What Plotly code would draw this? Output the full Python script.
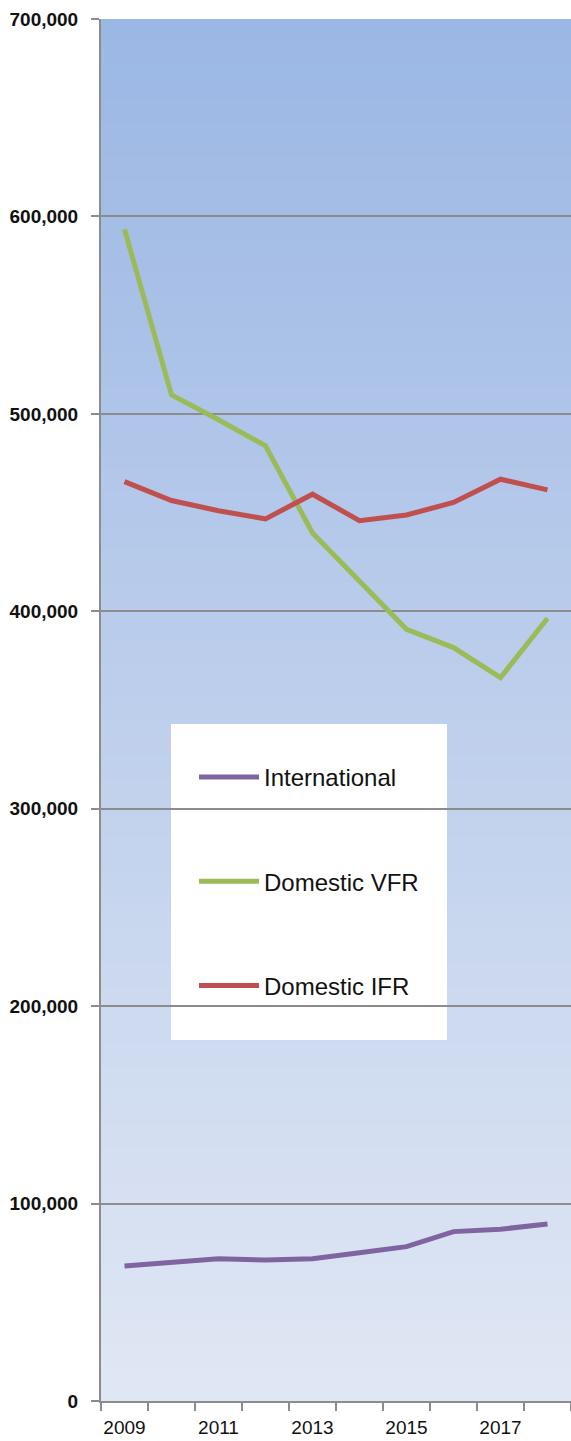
import plotly.graph_objects as go

years = [2009, 2010, 2011, 2012, 2013, 2014, 2015, 2016, 2017, 2018]
international = [68400, 70000, 72000, 71400, 72100, 75100, 78200, 85800, 87000, 89700]
domestic_vfr = [593500, 509600, 497000, 483800, 439700, 415500, 390900, 381600, 366400, 396500]
domestic_ifr = [465700, 456100, 450900, 446800, 459300, 445900, 448800, 455100, 466900, 461500]

series_names = ["International", "Domestic VFR", "Domestic IFR"]
series_colors = ["#8064A2", "#9BBB59", "#C0504D"]
x_label_years = [2009, 2011, 2013, 2015, 2017]

W, H = 571, 1441
ML, MR, MT, MB = 101, 0, 19, 40
PW, PH = W - ML - MR, H - MT - MB

fig = go.Figure()
for i, (name, vals) in enumerate(zip(series_names, [international, domestic_vfr, domestic_ifr])):
    fig.add_trace(go.Scatter(
        x=years, y=vals, name=name, mode="lines",
        line=dict(color=series_colors[i], width=5),
        legendgroup=name,
    ))

# vertical gradient background
top_rgb = (155, 183, 228)
bot_rgb = (224, 231, 244)
shapes = []
N = 120
for k in range(N):
    t = k / (N - 1)
    r = round(top_rgb[0] + (bot_rgb[0] - top_rgb[0]) * t)
    g = round(top_rgb[1] + (bot_rgb[1] - top_rgb[1]) * t)
    b = round(top_rgb[2] + (bot_rgb[2] - top_rgb[2]) * t)
    y1 = 1 - k / N
    y0 = 1 - (k + 1) / N - 0.001
    shapes.append(dict(type="rect", xref="paper", yref="paper", x0=0, x1=1,
                       y0=max(y0, 0), y1=y1, fillcolor=f"rgb({r},{g},{b})",
                       line=dict(width=0), layer="below"))

def px_x(px):
    return (px - ML) / PW

def px_y(py):
    return (H - MB - py) / PH

# white legend box
shapes.append(dict(type="rect", xref="paper", yref="paper",
                   x0=px_x(171), x1=px_x(447), y0=px_y(1040), y1=px_y(724),
                   fillcolor="white", line=dict(width=0), layer="between"))

fig.update_layout(
    width=W, height=H,
    margin=dict(l=ML, r=MR, t=MT, b=MB, pad=0),
    paper_bgcolor="white",
    plot_bgcolor="rgba(0,0,0,0)",
    shapes=shapes,
    showlegend=True,
    legend=dict(
        x=px_x(194), y=px_y(755), xanchor="left", yanchor="top",
        bgcolor="rgba(0,0,0,0)",
        font=dict(family="Liberation Sans", size=24, color="#111111"),
        traceorder="grouped", tracegroupgap=70,
        itemwidth=60,
    ),
    xaxis=dict(
        range=[2008.5, 2018.5],
        tickmode="array", tickvals=x_label_years,
        ticktext=[str(v) for v in x_label_years],
        ticks="outside", ticklen=8, tickcolor="rgba(0,0,0,0)",
        tickfont=dict(family="Liberation Sans", size=19, color="#111111"),
        showgrid=False, zeroline=False,
        showline=True, linecolor="#8c8c8c", linewidth=2,
        minor=dict(tickmode="array", tickvals=[y - 0.5 for y in years] + [2018.5],
                   ticks="outside", ticklen=8, tickcolor="#8c8c8c", tickwidth=2,
                   showgrid=False),
        fixedrange=True,
    ),
    yaxis=dict(
        range=[0, 700000], tickmode="linear", tick0=0, dtick=100000,
        tickformat=",d",
        ticks="outside", ticklen=8, tickcolor="#8c8c8c", tickwidth=2,
        ticklabelstandoff=9,
        tickfont=dict(family="Liberation Sans", size=19, color="#111111", weight="bold"),
        showgrid=True, gridcolor="#8c8c8c", gridwidth=1.5,
        zeroline=False,
        showline=True, linecolor="#8c8c8c", linewidth=2,
        fixedrange=True,
    ),
)

fig.write_html("out.html", config={"displayModeBar": False},
               post_script="document.body.style.margin='0';document.body.style.padding='0';")
